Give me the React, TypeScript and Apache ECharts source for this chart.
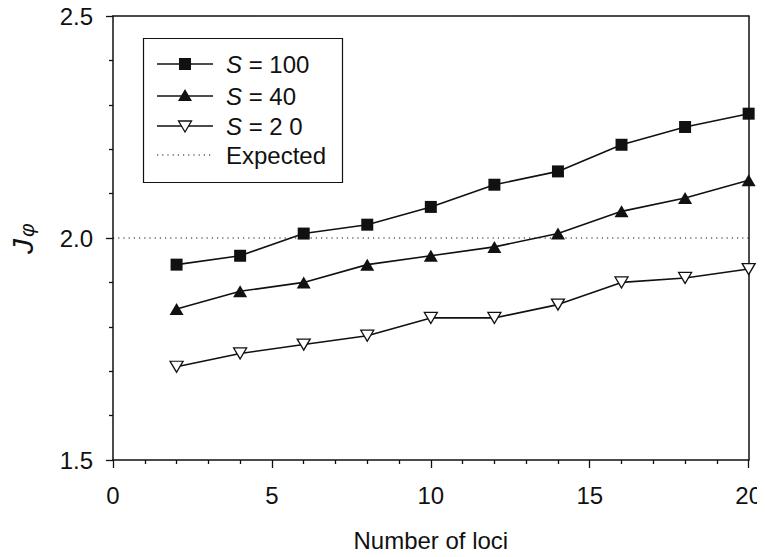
import React, { useEffect, useRef } from "react";
import * as echarts from "echarts";

const loci = [2, 4, 6, 8, 10, 12, 14, 16, 18, 20];
const s100 = [1.94, 1.96, 2.01, 2.03, 2.07, 2.12, 2.15, 2.21, 2.25, 2.28];
const s40 = [1.84, 1.88, 1.9, 1.94, 1.96, 1.98, 2.01, 2.06, 2.09, 2.13];
const s20 = [1.71, 1.74, 1.76, 1.78, 1.82, 1.82, 1.85, 1.9, 1.91, 1.93];
const expectedX = [0, 20];
const expectedValue = 2.0;
const legendLabels = ["{i|S} = 100", "{i|S} = 40", "{i|S} = 2 0", "Expected"];

const FONT = "'Liberation Sans', Arial, Helvetica, sans-serif";
const INK = "#111";
const FS = 24;

export default function App() {
  const ref = useRef<HTMLDivElement>(null);
  useEffect(() => {
    if (!ref.current) return;
    const chart = echarts.init(ref.current, undefined, { renderer: "svg" });
    const pair = (ys: number[]) => loci.map((x, i) => [x, ys[i]]);
    const lineStyle = { color: INK, width: 1.6 };
    const legendRows = [64, 96, 126, 155];
    const lx0 = 157, lx1 = 213, lcx = 185, tx = 226;
    const legendGraphics: any[] = [
      { type: "rect", shape: { x: 143.5, y: 38.5, width: 199, height: 144 }, style: { fill: "#fff", stroke: INK, lineWidth: 1.2 }, z: 10 },
    ];
    legendRows.forEach((y, i) => {
      legendGraphics.push({
        type: "line", shape: { x1: lx0, y1: y, x2: lx1, y2: y },
        style: i === 3 ? { stroke: INK, lineWidth: 1.2, lineDash: [1.2, 4] } : { stroke: INK, lineWidth: 1.6 }, z: 11,
      });
      legendGraphics.push({
        type: "text", x: tx, y, z: 11,
        style: { text: legendLabels[i], fontSize: FS, fontFamily: FONT, fill: INK, verticalAlign: "middle", align: "left", rich: { i: { fontStyle: "italic", fontSize: FS, fontFamily: FONT, fill: INK } } },
      });
    });
    legendGraphics.push({ type: "rect", shape: { x: lcx - 6, y: legendRows[0] - 6, width: 12, height: 12 }, style: { fill: INK }, z: 12 });
    legendGraphics.push({ type: "polygon", shape: { points: [[lcx, legendRows[1] - 7], [lcx + 7, legendRows[1] + 5], [lcx - 7, legendRows[1] + 5]] }, style: { fill: INK }, z: 12 });
    legendGraphics.push({ type: "polygon", shape: { points: [[lcx - 6.5, legendRows[2] - 5], [lcx + 6.5, legendRows[2] - 5], [lcx, legendRows[2] + 6]] }, style: { fill: "#fff", stroke: INK, lineWidth: 1.3 }, z: 12 });

    chart.setOption({
      animation: false,
      backgroundColor: "#fff",
      grid: { left: 113, right: 12, top: 16, bottom: 93 },
      xAxis: [
        {
          type: "value", min: 0, max: 20, interval: 5,
          name: "Number of loci", nameLocation: "middle", nameGap: 68,
          nameTextStyle: { fontSize: FS, fontFamily: FONT, color: INK },
          axisLine: { lineStyle: { color: INK, width: 1.5 } },
          axisTick: { show: true, length: 8, lineStyle: { color: INK, width: 1.3 } },
          minorTick: { show: true, splitNumber: 5, length: 4, lineStyle: { color: INK, width: 1.3 } },
          axisLabel: { fontSize: FS, fontFamily: FONT, color: INK, margin: 23 },
          splitLine: { show: false },
        },
        {
          type: "value", min: 0, max: 20, position: "top",
          axisLine: { show: true, onZero: false, lineStyle: { color: INK, width: 1.5 } },
          axisTick: { show: false }, axisLabel: { show: false }, splitLine: { show: false },
        },
      ],
      yAxis: [
        {
          type: "value", min: 1.5, max: 2.5, interval: 0.5,
          axisLine: { show: true, lineStyle: { color: INK, width: 1.5 } },
          axisTick: { show: true, length: 7, lineStyle: { color: INK, width: 1.3 } },
          minorTick: { show: true, splitNumber: 5, length: 4, lineStyle: { color: INK, width: 1.3 } },
          axisLabel: { fontSize: FS, fontFamily: FONT, color: INK, margin: 20, formatter: (v: number) => v.toFixed(1) },
          splitLine: { show: false },
        },
        {
          type: "value", min: 1.5, max: 2.5, position: "right",
          axisLine: { show: true, onZero: false, lineStyle: { color: INK, width: 1.5 } },
          axisTick: { show: false }, axisLabel: { show: false }, splitLine: { show: false },
        },
      ],
      graphic: [
        {
          type: "group", x: 22, y: 245, rotation: Math.PI / 2,
          children: [
            { type: "text", x: -9, y: 0, style: { text: "J", fontSize: 30, fontStyle: "italic", fontFamily: FONT, fill: INK, align: "left", verticalAlign: "middle" } },
            { type: "text", x: 8, y: 4, style: { text: "φ", fontSize: 21, fontStyle: "italic", fontFamily: FONT, fill: INK, align: "left", verticalAlign: "middle" } },
          ],
        },
        ...legendGraphics,
      ],
      series: [
        {
          name: "Expected", type: "line", data: expectedX.map((x) => [x, expectedValue]),
          symbol: "none", lineStyle: { color: INK, width: 1.2, type: [1.2, 4] }, z: 1,
        },
        {
          name: "S = 100", type: "line", data: pair(s100), symbol: "rect", symbolSize: 12,
          lineStyle, itemStyle: { color: INK }, z: 3,
        },
        {
          name: "S = 40", type: "line", data: pair(s40), symbol: "triangle", symbolSize: [14, 12],
          lineStyle, itemStyle: { color: INK }, z: 3,
        },
        {
          name: "S = 20", type: "line", data: pair(s20), symbol: "triangle", symbolRotate: 180, symbolSize: [13, 11],
          lineStyle, itemStyle: { color: "#fff", borderColor: INK, borderWidth: 1.3 }, z: 3,
        },
      ],
    });
    return () => chart.dispose();
  }, []);
  return <div ref={ref} style={{ width: 765, height: 557, margin: -8 }} />;
}
